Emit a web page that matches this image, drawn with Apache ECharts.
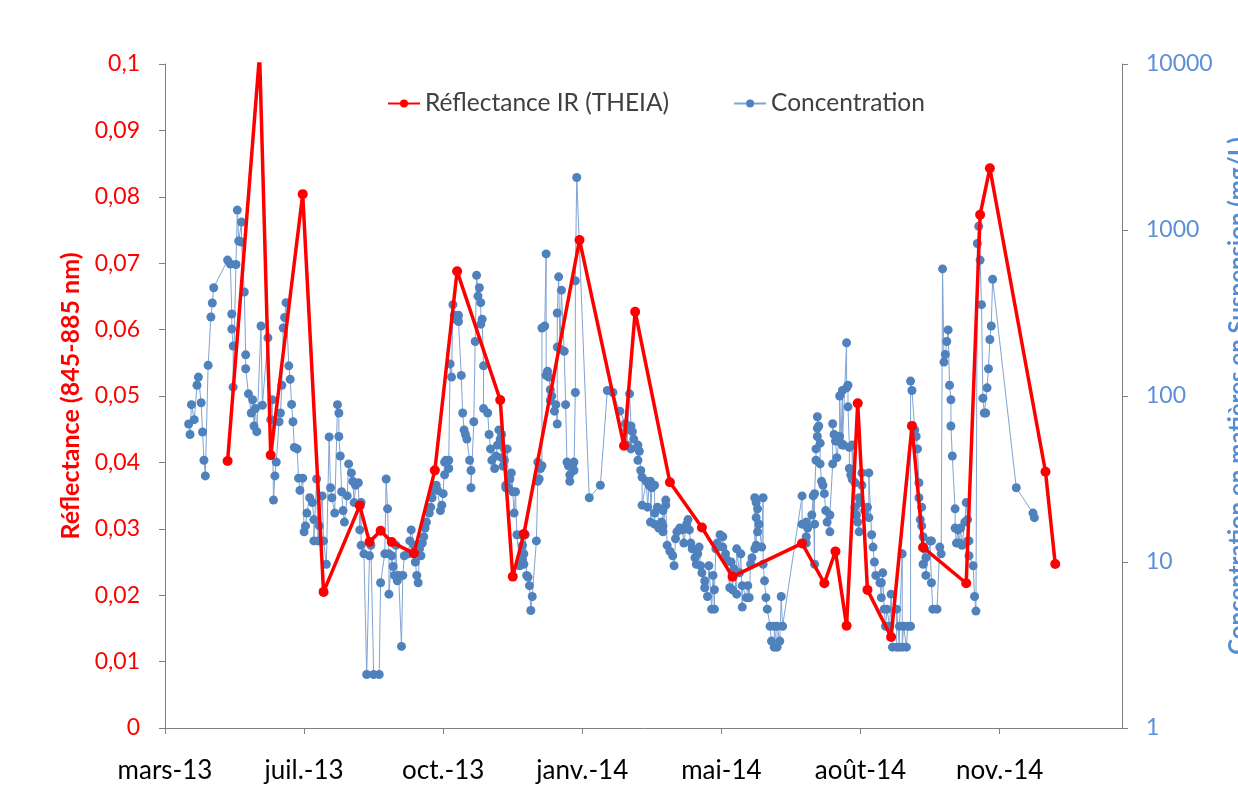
<!DOCTYPE html>
<html><head><meta charset="utf-8">
<script src="https://cdn.jsdelivr.net/npm/echarts@6/dist/echarts.min.js"></script>
<style>html,body{margin:0;padding:0;background:#fff;overflow:hidden}#c{width:1238px;height:787px}</style>
</head><body><div id="c"></div>
<script>
// x values are days counted from 2013-03-28 (axis origin)
const originUTC = Date.UTC(2013, 2, 28);
const monthNames = ['janv.','févr.','mars','avr.','mai','juin','juil.','août','sept.','oct.','nov.','déc.'];
const xTickDays = [0, 100, 200, 300, 400, 500, 600];
const leftTicks = [0, 0.01, 0.02, 0.03, 0.04, 0.05, 0.06, 0.07, 0.08, 0.09, 0.1];
const rightTicks = [1, 10, 100, 1000, 10000];

const reflDay = [45, 68, 76, 99, 114, 140, 147, 155, 163, 179, 194, 210, 241, 250, 258, 298, 330, 338, 363, 386, 408, 458, 474, 482, 490, 498, 505, 522, 537, 545, 576, 586, 593, 633, 640];
const reflVal = [0.0402, 0.1015, 0.0411, 0.0804, 0.0205, 0.0335, 0.0280, 0.0297, 0.0280, 0.0263, 0.0388, 0.0688, 0.0494, 0.0228, 0.0292, 0.0735, 0.0425, 0.0627, 0.037, 0.0302, 0.0228, 0.0278, 0.0218, 0.0266, 0.0154, 0.0489, 0.0208, 0.0137, 0.0455, 0.0272, 0.0218, 0.0773, 0.0843, 0.0386, 0.0247];

const concDay = [17,18,19,21,23,24,26,27,28,29,31,33,34,35,
45,47,48,48,49,49,51,52,53,55,55,57,58,58,60,62,63,64,65,66,69,70,74,76,77,78,79,80,82,83,84,85,86,87,89,90,91,92,93,95,96,97,99,100,101,102,104,106,107,107,109,110,111,113,114,116,118,119,120,122,124,125,125,126,127,128,129,131,132,134,135,136,137,139,140,141,141,143,145,147,148,150,154,155,158,159,160,161,161,163,164,165,166,167,168,170,171,172,175,176,177,179,180,181,182,183,184,185,186,187,188,190,191,192,193,195,196,198,199,200,201,201,202,204,204,205,206,207,208,209,211,211,213,214,215,216,217,219,220,220,222,223,224,225,226,227,227,228,229,229,232,233,234,235,237,238,239,240,241,242,242,243,244,244,245,245,246,247,248,249,250,251,252,253,255,256,257,257,258,258,259,260,261,262,263,264,267,268,268,269,270,271,271,273,274,274,275,276,277,277,278,280,281,282,282,282,283,284,285,287,288,289,290,291,291,293,294,294,295,295,296,
305,313,318,322,327,331,332,332,334,335,335,336,337,340,340,341,342,343,343,346,347,348,349,349,350,352,352,352,354,355,357,358,358,358,360,360,361,363,365,366,367,368,370,372,373,375,376,377,378,379,381,382,383,384,385,386,388,388,390,391,393,394,395,395,396,397,399,401,401,403,404,406,407,408,409,411,411,413,414,415,415,418,419,420,421,422,424,424,425,425,425,426,426,427,429,430,430,431,432,433,435,436,438,438,440,440,442,443,444,
458,458,461,461,461,462,465,466,467,467,467,468,468,469,469,469,470,471,471,472,473,474,475,476,478,478,480,480,481,482,483,485,485,486,487,487,488,490,490,491,491,492,492,493,494,494,496,496,497,498,499,499,500,501,501,503,505,506,506,508,509,510,511,514,515,515,516,517,518,519,521,522,523,526,526,528,528,530,530,531,533,534,536,536,537,539,540,541,542,542,543,544,544,545,545,546,547,547,550,551,551,552,555,557,558,559,560,561,562,563,564,565,565,566,568,568,569,570,571,572,573,575,576,577,577,578,578,581,582,583,584,585,586,587,588,589,590,591,592,593,594,595,612,624,625];
const concVal = [67.8,58.6,88.7,72,116,130,91,60.7,41,33,153,299,363,449,
659,624,312,253,200,113,620,1318,859,1116,847,423,177,146,103,79,95,66,84,61,264,88,224,72,95,23.6,33,40,70,79,116,257,297,365,152,126,89,70,49,48,32,27,32,15.2,16.5,19.7,24.4,22.8,18,13.4,31.6,13.4,16.5,25,13.4,9.7,56.7,28,24.4,19.7,88.7,79,57,43.5,26.5,20.4,17.4,25,39,34.4,30.6,22.8,29,30,15.6,22.8,12.6,11.2,2.1,10.9,12.6,2.1,2.1,7.5,11.2,31.6,20.9,11.2,6.4,10.9,9.4,8.3,12.6,7.7,8.3,3.1,8.3,10.9,11.2,13.4,15.6,12.6,10,8.3,7.5,12,10.9,13,14.2,16,17.4,19.7,21.4,24.4,27,29,27,20.4,22,25.8,40,33.5,41,36.6,41,156,130,355,306,290,306,281,133,79,62.5,58.6,55,41,35.6,28,70,213,533,400,449,365,271,290,152,84,79,58.6,48,41,36.6,43.5,50.6,62.5,55,58.6,42.5,37.8,48,41,28,29,48,28,31.6,34.4,26.5,19.7,26.5,14.6,9.5,14.6,10.3,12.6,11.2,9.7,14.6,8.3,8.1,7.2,5.1,6.2,13.4,30.6,40,31.6,36.6,38,257,264,718,133,141,130,109,94,100,81,88.7,67.8,197,316,522,192,434,186,88.7,40,38,33.5,30.6,38,40,35.6,105,495,2070,
24.4,29,108,105,81,68,62.5,50.6,103,66,48,61,55,50.6,41,46.5,35.6,32.4,22,30.6,21.4,29,30.6,17.4,28,29,16.9,19.7,21.4,16,17.4,16.5,20.4,15.2,23.6,22,12.6,11.6,10.9,9.5,13.8,15.2,16,15.6,13,16.9,18,15.6,13,12,10.6,9.7,11.2,12.3,9.5,8.6,7.7,7.0,6.2,9.5,5.2,8.3,5.2,6.8,12,13,14.6,14.2,12.3,11.2,10.3,7.0,10,6.8,9.1,6.4,12,8.6,11.2,5.35,7.2,6.1,7.2,6.1,9.7,10.6,12,24.4,12.6,22.8,18.5,15.2,20.9,16.9,12.3,24.4,9.7,7.7,6.1,5.2,4.1,3.34,3.07,4.1,3.07,4.1,3.34,6.2,4.1,
25,16.9,17.4,14.2,13,16,19.2,25,9.7,16.9,25.8,41,48,57,64,75,66,52,39,30.6,29,25.8,20.4,17.4,15.2,19.2,39,68,58.6,53.5,42.5,57,100,52,108,50.6,50.6,209,112,116,86,49,36.6,33.5,31.6,50.6,30,21.4,19.2,17.4,15.2,24.4,22.8,34.4,29,20.4,21.4,18.5,34.4,14.6,12.3,10,8.3,7.5,7.5,6.1,8.6,5.2,4.1,5.2,4.1,6.4,3.07,3.07,5.2,3.07,4.1,11.2,3.07,4.1,3.07,4.1,4.1,123,108,62.5,57,48,30,24.4,18,21.4,16.5,14.2,9.7,12,10.6,8.3,13.4,13.4,7.5,5.2,5.2,12.3,11.2,583,160,178,213,250,116,95,66,43.5,20.9,16,13,15.6,13,16,12.6,17.4,22.8,18,13.4,13.4,10.9,9.5,6.2,5.06,829,1052,659,355,97,79,79,112,146,219,264,505,28,19.7,18.5];

const reflData = reflDay.map((d, i) => [d, reflVal[i]]);
const concData = concDay.map((d, i) => [d, concVal[i]]);

function dayLabel(v) {
  if (xTickDays.indexOf(v) < 0) return '';
  const d = new Date(originUTC + v * 86400000);
  return monthNames[d.getUTCMonth()] + '-' + String(d.getUTCFullYear()).slice(2);
}
function commaNum(v) {
  return String(parseFloat(v.toFixed(3))).replace('.', ',');
}

const FONT = 'Lato, "Open Sans", sans-serif';
const chart = echarts.init(document.getElementById('c'), null, {renderer: 'canvas'});
chart.setOption({
  animation: false,
  backgroundColor: '#ffffff',
  textStyle: {fontFamily: FONT},
  grid: {left: 165, right: 116, top: 64, bottom: 59, containLabel: false, outerBoundsMode: 'none'},
  legend: {
    left: 382, top: 86,
    itemWidth: 32, itemHeight: 10, itemGap: 64,
    textStyle: {fontFamily: FONT, fontSize: 24.5, color: '#404040'},
    data: ['Réflectance IR (THEIA)', 'Concentration']
  },
  xAxis: {
    type: 'value', min: 0, max: 688, interval: 100,
    axisLine: {lineStyle: {color: '#808080', width: 1}},
    axisTick: {show: true, length: 6, lineStyle: {color: '#808080'}},
    splitLine: {show: false},
    axisLabel: {formatter: dayLabel, showMaxLabel: false, fontSize: 26, color: '#000000', margin: 30, fontFamily: FONT}
  },
  yAxis: [{
    type: 'value', min: 0, max: 0.1, interval: 0.01, position: 'left',
    name: 'Réflectance (845-885 nm)', nameLocation: 'middle', nameGap: 80, nameRotate: 90,
    nameTextStyle: {color: '#FF0000', fontWeight: 'bold', fontSize: 25, fontFamily: FONT},
    axisLine: {show: true, lineStyle: {color: '#808080', width: 1}},
    axisTick: {show: true, length: 6, lineStyle: {color: '#808080'}},
    splitLine: {show: false},
    axisLabel: {formatter: commaNum, color: '#FF0000', fontSize: 23, margin: 25, fontFamily: FONT}
  }, {
    type: 'log', logBase: 10, min: 1, max: 10000, position: 'right',
    name: 'Concentration en matières en Suspension (mg/L)', nameLocation: 'middle', nameGap: 104, nameRotate: 90,
    nameTextStyle: {color: '#558ED5', fontWeight: 'bold', fontSize: 24, fontFamily: FONT},
    axisLine: {show: true, lineStyle: {color: '#808080', width: 1}},
    axisTick: {show: true, length: 6, lineStyle: {color: '#808080'}},
    splitLine: {show: false},
    axisLabel: {formatter: v => String(Math.round(v)), color: '#5B8FD6', fontSize: 23, margin: 24, fontFamily: FONT}
  }],
  series: [{
    name: 'Concentration', type: 'line', yAxisIndex: 1, z: 2,
    data: concData, showAllSymbol: true, clip: true,
    symbol: 'circle', symbolSize: 9,
    itemStyle: {color: '#4F81BD'},
    lineStyle: {color: '#7FA3D3', width: 1},
    emphasis: {disabled: true}
  }, {
    name: 'Réflectance IR (THEIA)', type: 'line', yAxisIndex: 0, z: 3,
    data: reflData, showAllSymbol: true, clip: true,
    symbol: 'circle', symbolSize: 10,
    itemStyle: {color: '#FF0000'},
    lineStyle: {color: '#FF0000', width: 3.5},
    emphasis: {disabled: true}
  }]
});
</script>
</body></html>
